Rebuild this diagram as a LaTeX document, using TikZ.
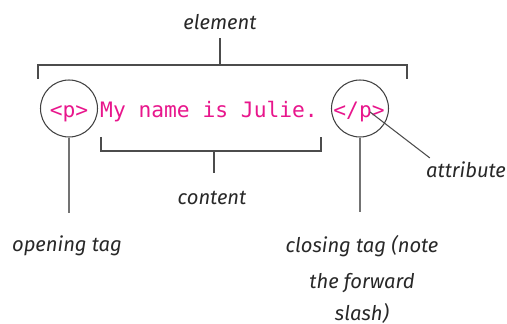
\documentclass[tikz,border=0pt]{standalone}
\usepackage{fontspec}
\setmainfont{Fira Sans}
\newfontfamily\tagfont{DejaVu Sans Mono}
\usetikzlibrary{positioning, calc}
\definecolor{tagpink}{RGB}{232,22,140}
\definecolor{ink}{RGB}{40,40,40}
\tikzset{
    lab/.style={font=\fontsize{11.5}{14}\selectfont\itshape, text=ink, inner sep=0pt,
                anchor=base, align=center},
    code/.style={font=\tagfont\fontsize{12.1}{14}\selectfont, text=tagpink, inner sep=0pt,
                 anchor=base},
    ring/.style={draw=black!75, line width=0.6pt, circle, minimum size=1.14cm, inner sep=0pt},
    brk/.style={draw=black!70, line width=0.8pt},
    lead/.style={draw=black!55, line width=1pt},
}

\begin{document}
\begin{tikzpicture}[x=0.02cm, y=-0.02cm]
    \useasboundingbox (0,0) rectangle (507,324);
    % the markup itself
    \node[ring] (openc) at (69,108.5) {};
    \node[ring] (closec) at (360,108.5) {};
    \node[code] (opent) at (69,118) {<p>};
    \node[code] (body) at (209,118) {My name is Julie.};
    \node[code] (closet) at (359,118) {</p>};
    % labels (a wrapped label sits on its last line)
    \node[lab] (elem) at (220,30) {element};
    \node[lab] (cont) at (212,205) {content};
    \node[lab] (attr) at (466,178) {attribute};
    \node[lab] (otag) at (67,252) {opening tag};
    \node[lab] (ctag) at (362,320) {closing tag (note\\[6.5pt] the forward\\[4pt] slash)};
    % brackets
    \coordinate (eL) at (38,79);
    \coordinate (eR) at (407,79);
    \coordinate (etop) at (220,65);
    \draw[brk] (eL) |- (etop) -| (eR);
    \draw[brk, shorten >=4.5pt] (etop) -- (etop |- elem.south);
    \coordinate (cL) at (101,137);
    \coordinate (cR) at (321,137);
    \coordinate (cbot) at (214,151);
    \draw[brk] (cL) |- (cbot) -| (cR);
    \draw[brk, shorten >=10.5pt] (cbot) -- (cbot |- cont.north);
    % leaders
    \draw[lead, shorten >=13pt] (openc.south) -- (openc.south |- otag.north);
    \draw[lead, shorten >=13pt] (closec.south) -- (closec.south |- ctag.north);
    \coordinate (slash) at (370,112);
    \draw[brk, line width=0.6pt] (slash) -- ([shift={(4,-4)}]attr.north west);
\end{tikzpicture}
\end{document}
